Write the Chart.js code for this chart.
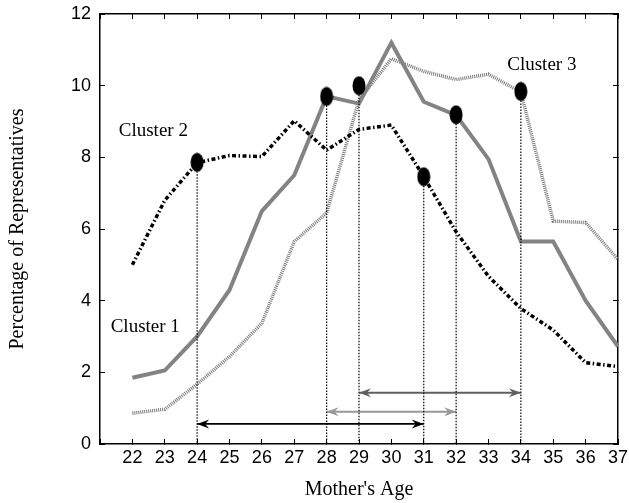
<!DOCTYPE html>
<html><head><meta charset="utf-8">
<script src="https://cdn.jsdelivr.net/npm/chart.js@4"></script>
<style>html,body{margin:0;padding:0;background:#fff}#wrap{width:629px;height:503px}</style>
</head><body><div id="wrap"><canvas id="c" width="629" height="503"></canvas></div>
<script>
// ---- data ----
const ages = [22,23,24,25,26,27,28,29,30,31,32,33,34,35,36,37];
const cluster1 = [1.85,2.05,3.0,4.3,6.5,7.5,9.7,9.5,11.2,9.55,9.18,7.95,5.65,5.65,4.0,2.72];
const cluster2 = [5.0,6.8,7.85,8.05,8.02,9.02,8.2,8.78,8.9,7.46,5.92,4.68,3.78,3.18,2.27,2.16];
const cluster3 = [0.86,0.97,1.67,2.44,3.37,5.65,6.45,9.6,10.75,10.4,10.17,10.32,9.82,6.22,6.18,5.15];
const markerAges = [24,28,29,31,32,34];
const markerValues = [7.86,9.7,10.0,7.46,9.19,9.84];
const arrowStarts = [24,28,29];
const arrowEnds = [31,32,34];
const arrowLevels = [0.56,0.90,1.43];
const clusterNames = ['Cluster 1','Cluster 2','Cluster 3'];
const yTickStep = 2;
const xAxisTitle = "Mother's Age";
const yAxisTitle = 'Percentage of Representatives';

// ---- layout/style config ----
const labelAnchors = [{x:21.33,y:3.27},{x:21.58,y:8.74},{x:33.58,y:10.59}];
const arrowColors = ['#000000','#999999','#5f5f5f'];

function ellipseMarker(){
  const c=document.createElement('canvas'); c.width=14; c.height=20;
  const g=c.getContext('2d'); g.fillStyle='#000'; g.beginPath();
  g.ellipse(7,10,6.5,9.5,0,0,Math.PI*2); g.fill(); return c;
}
const marker = ellipseMarker();

const datasets = [];
datasets.push({label:'markers', data: markerAges.map((a,i)=>({x:a,y:markerValues[i]})),
  showLine:false, pointStyle: marker, pointRadius:10, order:0});
markerAges.forEach((a,i)=>{
  datasets.push({label:'drop'+i, data:[{x:a,y:markerValues[i]},{x:a,y:0}],
    borderColor:'#000', borderWidth:1.2, borderDash:[1.5,1.5], pointRadius:0, order:1});
});
arrowStarts.forEach((s,i)=>{
  datasets.push({label:'arrow'+i, arrow:true, data:[{x:s,y:arrowLevels[i]},{x:arrowEnds[i],y:arrowLevels[i]}],
    borderColor:arrowColors[i], borderWidth:1.8, pointRadius:0, order:2});
});
datasets.push({label:clusterNames[1], data: ages.map((a,i)=>({x:a,y:cluster2[i]})),
  borderColor:'#000', borderWidth:3.5, borderDash:[4,2.5,1.5,2.5], pointRadius:0, order:3});
datasets.push({label:clusterNames[0], data: ages.map((a,i)=>({x:a,y:cluster1[i]})),
  borderColor:'#838383', borderWidth:4, pointRadius:0, order:4});
datasets.push({label:clusterNames[2], data: ages.map((a,i)=>({x:a,y:cluster3[i]})),
  borderColor:'#7a7a7a', borderWidth:3.5, borderDash:[1,1], pointRadius:0, order:5});

const arrowPlugin = {
  id:'arrows',
  afterDatasetsDraw(chart){
    const ctx=chart.ctx;
    chart.data.datasets.forEach((ds,di)=>{
      if(!ds.arrow) return;
      const pts=chart.getDatasetMeta(di).data;
      const a=pts[0], b=pts[pts.length-1];
      ctx.save(); ctx.fillStyle=ds.borderColor;
      [[a.x,a.y,1],[b.x,b.y,-1]].forEach(([x,y,d])=>{
        ctx.beginPath(); ctx.moveTo(x,y); ctx.lineTo(x+12*d,y-4.5);
        ctx.lineTo(x+8*d,y); ctx.lineTo(x+12*d,y+4.5); ctx.closePath(); ctx.fill();
      });
      ctx.restore();
    });
  }
};
const labelPlugin = {
  id:'clusterLabels',
  afterDatasetsDraw(chart){
    const ctx=chart.ctx, xs=chart.scales.x, ys=chart.scales.y;
    ctx.save(); ctx.fillStyle='#000'; ctx.font='19px "Liberation Serif"';
    ctx.textAlign='left'; ctx.textBaseline='middle';
    clusterNames.forEach((n,i)=>{
      ctx.fillText(n, xs.getPixelForValue(labelAnchors[i].x), ys.getPixelForValue(labelAnchors[i].y));
    });
    ctx.restore();
  }
};

const tickFont = {family:'"Liberation Sans"', size:18};
const gridCfg = {drawOnChartArea:false, tickLength:-5, color:'#000', lineWidth:1};
const borderCfg = {color:'#000', width:1.5};

new Chart(document.getElementById('c'), {
  type:'line',
  data:{datasets},
  options:{
    responsive:false, animation:false, devicePixelRatio:1,
    layout:{padding:{top:14,right:10,left:0,bottom:0}},
    plugins:{legend:{display:false}, tooltip:{enabled:false}},
    elements:{line:{tension:0}},
    scales:{
      x:{type:'linear', position:'bottom', min:21, max:37,
        ticks:{stepSize:1, autoSkip:false, maxRotation:0, color:'#000', font:tickFont, padding:8,
          callback:v=> v===21?'':String(v)},
        grid:gridCfg, border:borderCfg,
        title:{display:true, text:xAxisTitle, color:'#000', font:{family:'"Liberation Serif"', size:20}, padding:{top:0,bottom:1}},
        afterFit:s=>{s.height=59; s.paddingLeft=0; s.paddingRight=0;}},
      x2:{type:'linear', position:'top', min:21, max:37,
        ticks:{stepSize:1, display:false}, grid:gridCfg, border:borderCfg,
        afterFit:s=>{s.height=0; s.paddingLeft=0; s.paddingRight=0;}},
      y:{type:'linear', position:'left', min:0, max:12,
        ticks:{stepSize:yTickStep, color:'#000', font:tickFont, padding:14},
        grid:gridCfg, border:borderCfg,
        title:{display:true, text:yAxisTitle, color:'#000', font:{family:'"Liberation Serif"', size:20}, padding:{top:5.5,bottom:0}},
        afterFit:s=>{s.width=100; s.paddingTop=0; s.paddingBottom=0;}},
      y2:{type:'linear', position:'right', min:0, max:12,
        ticks:{stepSize:yTickStep, display:false}, grid:gridCfg, border:borderCfg,
        afterFit:s=>{s.width=0; s.paddingTop=0; s.paddingBottom=0;}}
    }
  },
  plugins:[arrowPlugin, labelPlugin]
});
</script></body></html>
